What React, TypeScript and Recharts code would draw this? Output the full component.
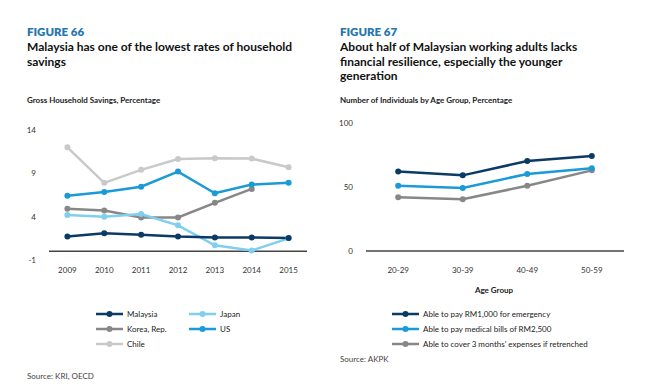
import React from "react";
import { LineChart, Line, XAxis, YAxis, ReferenceLine } from "recharts";

const years = ["2009", "2010", "2011", "2012", "2013", "2014", "2015"];
const malaysia = [1.7, 2.1, 1.9, 1.7, 1.6, 1.6, 1.55];
const japan = [4.2, 4.0, 4.3, 3.0, 0.7, 0.1, 1.5];
const korea = [4.9, 4.7, 3.9, 3.9, 5.6, 7.2, null];
const us = [6.4, 6.85, 7.45, 9.2, 6.7, 7.7, 7.9];
const chile = [12.0, 7.9, 9.4, 10.65, 10.75, 10.7, 9.7];
const leftTicks = [-1, 4, 9, 14];

const ageGroups = ["20-29", "30-39", "40-49", "50-59"];
const emergency = [62.2, 59.1, 70.3, 74.2];
const medical = [51, 49.2, 60.2, 64.6];
const cover = [42, 40.4, 51, 63];
const rightTicks = [0, 50, 100];

const leftSeries = [
  { key: "chile", name: "Chile", color: "#c9c9c9", values: chile },
  { key: "korea", name: "Korea, Rep.", color: "#878787", values: korea },
  { key: "us", name: "US", color: "#1a9ad6", values: us },
  { key: "japan", name: "Japan", color: "#80cfef", values: japan },
  { key: "malaysia", name: "Malaysia", color: "#0c3a66", values: malaysia },
];

const rightSeries = [
  { key: "cover", name: "Able to cover 3 months' expenses if retrenched", color: "#878787", values: cover },
  { key: "medical", name: "Able to pay medical bills of RM2,500", color: "#1a9ad6", values: medical },
  { key: "emergency", name: "Able to pay RM1,000 for emergency", color: "#0c3a66", values: emergency },
];

const leftData = years.map((y, i) => {
  const row: any = { year: y };
  leftSeries.forEach((s) => (row[s.key] = s.values[i]));
  return row;
});
const rightData = ageGroups.map((a, i) => {
  const row: any = { age: a };
  rightSeries.forEach((s) => (row[s.key] = s.values[i]));
  return row;
});

const FONT = "Lato, 'Open Sans', sans-serif";
const tickStyle = { fontSize: 8, fill: "#333", fontFamily: FONT };

const Abs = ({ x, y, children, style }: any) => (
  <div style={{ position: "absolute", left: x, top: y, whiteSpace: "nowrap", fontFamily: FONT, ...style }}>{children}</div>
);

const LegendItem = ({ x, y, color, name }: any) => (
  <div style={{ position: "absolute", left: x, top: y - 6, height: 12, display: "flex", alignItems: "center", fontFamily: FONT, fontSize: 8, color: "#222", whiteSpace: "nowrap" }}>
    <svg width={27} height={12} style={{ marginRight: 4 }}>
      <line x1={0} y1={6} x2={27} y2={6} stroke={color} strokeWidth={2.5} />
      <circle cx={13.5} cy={6} r={3} fill={color} />
    </svg>
    {name}
  </div>
);

const leftLegendLayout = [
  { key: "malaysia", x: 96, y: 314 },
  { key: "japan", x: 189, y: 314 },
  { key: "korea", x: 96, y: 329 },
  { key: "us", x: 189, y: 329 },
  { key: "chile", x: 96, y: 344 },
];
const rightLegendOrder = ["emergency", "medical", "cover"];

export default function App() {
  return (
    <div style={{ position: "absolute", left: 0, top: 0, width: 652, height: 386, background: "#fff", overflow: "hidden" }}>
      <Abs x={27} y={25} style={{ fontSize: 11.5, fontWeight: 800, color: "#2577b0" }}>FIGURE 66</Abs>
      <Abs x={27} y={40} style={{ fontSize: 12, fontWeight: 700, color: "#111", lineHeight: "14.5px" }}>
        Malaysia has one of the lowest rates of household<br />savings
      </Abs>
      <Abs x={27} y={95} style={{ fontSize: 8, fontWeight: 700, color: "#222" }}>Gross Household Savings, Percentage</Abs>

      <Abs x={340} y={25} style={{ fontSize: 11.5, fontWeight: 800, color: "#2577b0" }}>FIGURE 67</Abs>
      <Abs x={340} y={40} style={{ fontSize: 12, fontWeight: 700, color: "#111", lineHeight: "14.5px" }}>
        About half of Malaysian working adults lacks<br />financial resilience, especially the younger<br />generation
      </Abs>
      <Abs x={340} y={95} style={{ fontSize: 8, fontWeight: 700, color: "#222" }}>Number of Individuals by Age Group, Percentage</Abs>

      <div style={{ position: "absolute", left: 0, top: 0 }}>
        <LineChart width={330} height={300} data={leftData} margin={{ top: 130, right: 23, bottom: 10, left: 0 }}>
          <XAxis dataKey="year" axisLine={false} tickLine={false} tickSize={0} tickMargin={7} height={30} tick={tickStyle} interval={0} padding={{ left: 18.4, right: 18.4 }} />
          <YAxis type="number" domain={[-1, 14]} ticks={leftTicks} axisLine={false} tickLine={false} tickSize={0} tickMargin={13} width={49} tick={tickStyle} interval={0} />
          <ReferenceLine y={0} stroke="#444" strokeWidth={1.5} />
          {leftSeries.map((s) => (
            <Line key={s.key} dataKey={s.key} name={s.name} stroke={s.color} strokeWidth={2.5} dot={{ r: 3, fill: s.color, stroke: s.color, strokeWidth: 0 }} activeDot={false} isAnimationActive={false} connectNulls={false} />
          ))}
        </LineChart>
      </div>

      <div style={{ position: "absolute", left: 330, top: 0 }}>
        <LineChart width={322} height={300} data={rightData} margin={{ top: 123, right: 28, bottom: 19, left: 0 }}>
          <XAxis dataKey="age" axisLine={{ stroke: "#444", strokeWidth: 1.5 }} tickLine={false} tickSize={0} tickMargin={16} height={30} tick={tickStyle} interval={0} padding={{ left: 32.2, right: 32.2 }} />
          <YAxis type="number" domain={[0, 100]} ticks={rightTicks} axisLine={false} tickLine={false} tickSize={0} tickMargin={13} width={36} tick={tickStyle} interval={0} />
          {rightSeries.map((s) => (
            <Line key={s.key} dataKey={s.key} name={s.name} stroke={s.color} strokeWidth={2.5} dot={{ r: 3, fill: s.color, stroke: s.color, strokeWidth: 0 }} activeDot={false} isAnimationActive={false} />
          ))}
        </LineChart>
      </div>

      <Abs x={494} y={285} style={{ fontSize: 8, fontWeight: 700, color: "#222", transform: "translateX(-50%)" }}>Age Group</Abs>

      {leftLegendLayout.map((l) => {
        const s = leftSeries.find((q) => q.key === l.key)!;
        return <LegendItem key={l.key} x={l.x} y={l.y} color={s.color} name={s.name} />;
      })}
      {rightLegendOrder.map((k, i) => {
        const s = rightSeries.find((q) => q.key === k)!;
        return <LegendItem key={k} x={392} y={314 + i * 15} color={s.color} name={s.name} />;
      })}

      <Abs x={27} y={371} style={{ fontSize: 8, color: "#444" }}>Source: KRI, OECD</Abs>
      <Abs x={340} y={354} style={{ fontSize: 8, color: "#444" }}>Source: AKPK</Abs>
    </div>
  );
}
